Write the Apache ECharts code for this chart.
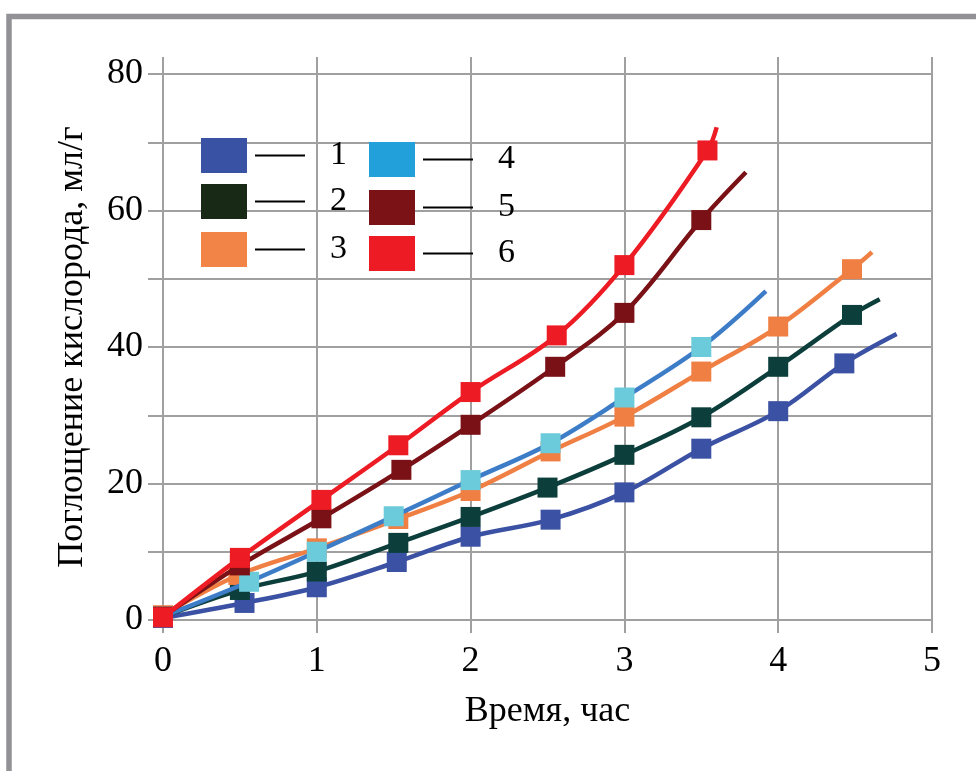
<!DOCTYPE html>
<html><head><meta charset="utf-8">
<script src="https://cdn.jsdelivr.net/npm/echarts@6/dist/echarts.min.js"></script>
<style>html,body{margin:0;padding:0;background:#fff}#c{width:976px;height:771px}</style>
</head><body><div id="c"></div>
<script>
// ---- data ----
const seriesNames = ['1', '2', '3', '4', '5', '6'];
const xTickValues = [0, 1, 2, 3, 4, 5];
const yTickLabels = [0, 20, 40, 60, 80];

const x1 = [0, 0.53, 1.0, 1.52, 2.0, 2.52, 3.0, 3.5, 4.0, 4.43, 4.77];
const y1 = [0.3, 2.5, 4.8, 8.5, 12.2, 14.7, 18.7, 25.1, 30.6, 37.6, 41.9];

const x2 = [0, 0.5, 1.0, 1.53, 2.0, 2.5, 3.0, 3.5, 4.0, 4.48, 4.66];
const y2 = [0.5, 4.4, 7.1, 11.3, 15.1, 19.4, 24.2, 29.7, 37.1, 44.7, 47.0];

const x3 = [0, 0.49, 1.0, 1.53, 2.0, 2.52, 3.0, 3.5, 4.0, 4.48, 4.61];
const y3 = [0.7, 6.6, 10.5, 14.8, 18.9, 24.7, 29.8, 36.4, 43.0, 51.4, 53.9];

const x4 = [0, 0.56, 1.0, 1.5, 2.0, 2.52, 3.0, 3.5, 3.92];
const y4 = [0.5, 5.6, 10.0, 15.2, 20.5, 25.9, 32.6, 40.0, 48.2];

const x5 = [0, 0.5, 1.03, 1.55, 2.0, 2.55, 3.0, 3.5, 3.79];
const y5 = [0.5, 8.0, 14.9, 22.0, 28.6, 37.1, 45.0, 58.6, 65.6];

const x6 = [0, 0.5, 1.03, 1.53, 2.0, 2.56, 3.0, 3.54, 3.6];
const y6 = [0.4, 9.1, 17.6, 25.6, 33.4, 41.7, 52.0, 68.8, 72.2];

// ---- styles ----
const FONT = 'Liberation Serif';
const GRID_COLOR = '#a0a0a0';
const lineColors   = ['#3b51a3', '#0c3f3b', '#f07f43', '#3d7dc8', '#7a1116', '#ed1c24'];
const markerColors = ['#3b51a3', '#0c3f3b', '#f07f43', '#6ccbdb', '#7a1116', '#ed1c24'];
const legendColors = ['#3a52a3', '#182a16', '#f28448', '#22a0da', '#7a1216', '#ed1c24'];
const legendPos = [[201, 138], [201, 184], [201, 232], [369, 142], [369, 190], [369, 236]];

const xs = [x1, x2, x3, x4, x5, x6];
const ys = [y1, y2, y3, y4, y5, y6];

const series = seriesNames.map((name, s) => ({
  name: name,
  type: 'line',
  smooth: 0.35,
  symbol: 'rect',
  symbolSize: 20,
  z: 2 + s,
  lineStyle: { color: lineColors[s], width: 4.5 },
  itemStyle: { color: markerColors[s] },
  data: xs[s].map((x, i) => {
    const item = { value: [x, ys[s][i]] };
    if (i === xs[s].length - 1) item.symbol = 'none';
    return item;
  })
}));

const legends = seriesNames.map((name, s) => ({
  left: legendPos[s][0],
  top: legendPos[s][1],
  padding: 0,
  orient: 'vertical',
  selectedMode: false,
  icon: 'rect',
  itemWidth: 46,
  itemHeight: 35,
  data: [{ name: name, icon: 'rect', itemStyle: { color: legendColors[s] } }],
  formatter: n => '{s|}{d|}{n|' + n + '}',
  textStyle: {
    fontFamily: FONT,
    color: '#000',
    rich: {
      s: { width: 3, height: 2 },
      d: { width: 50, height: 2, backgroundColor: '#000' },
      n: { fontFamily: FONT, fontSize: 34, color: '#000', padding: [0, 0, 0, 25] }
    }
  }
}));

const chart = echarts.init(document.getElementById('c'), null, { renderer: 'canvas' });
chart.setOption({
  backgroundColor: '#fff',
  animation: false,
  graphic: [{
    type: 'rect',
    z: -10,
    shape: { x: 9, y: 16.5, width: 1000, height: 800 },
    style: { fill: 'none', stroke: '#929296', lineWidth: 5.5 }
  }],
  grid: { left: 163, right: 44, top: 74, bottom: 151 },
  legend: legends,
  xAxis: [{
    type: 'value',
    min: 0, max: 5, interval: 1,
    position: 'bottom',
    name: 'Время, час',
    nameLocation: 'middle',
    nameGap: 74,
    nameTextStyle: { fontFamily: FONT, fontSize: 36, color: '#000' },
    axisLine: { show: true, lineStyle: { color: GRID_COLOR, width: 2 } },
    axisTick: { show: true, length: 13, lineStyle: { color: GRID_COLOR, width: 2 } },
    axisLabel: {
      fontFamily: FONT, fontSize: 36, color: '#000', margin: 24,
      formatter: v => xTickValues.includes(v) ? String(v) : ''
    },
    splitLine: { show: true, lineStyle: { color: GRID_COLOR, width: 2 } }
  }, {
    type: 'value',
    min: 0, max: 5, interval: 1,
    position: 'top',
    axisLine: { show: false },
    axisTick: { show: true, length: 17, lineStyle: { color: GRID_COLOR, width: 2 } },
    axisLabel: { show: false },
    splitLine: { show: false }
  }],
  yAxis: {
    type: 'value',
    min: 0, max: 80, interval: 10,
    name: 'Поглощение кислорода, мл/г',
    nameLocation: 'middle',
    nameRotate: 90,
    nameGap: 72,
    nameTextStyle: { fontFamily: FONT, fontSize: 36, color: '#000' },
    axisLine: { show: true, lineStyle: { color: GRID_COLOR, width: 2 } },
    axisTick: { show: true, length: 15, lineStyle: { color: GRID_COLOR, width: 2 } },
    axisLabel: {
      fontFamily: FONT, fontSize: 36, color: '#000', margin: 20,
      formatter: v => yTickLabels.includes(v) ? String(v) : ''
    },
    splitLine: { show: true, lineStyle: { color: GRID_COLOR, width: 2 } }
  },
  series: series
});
</script>
</body></html>
